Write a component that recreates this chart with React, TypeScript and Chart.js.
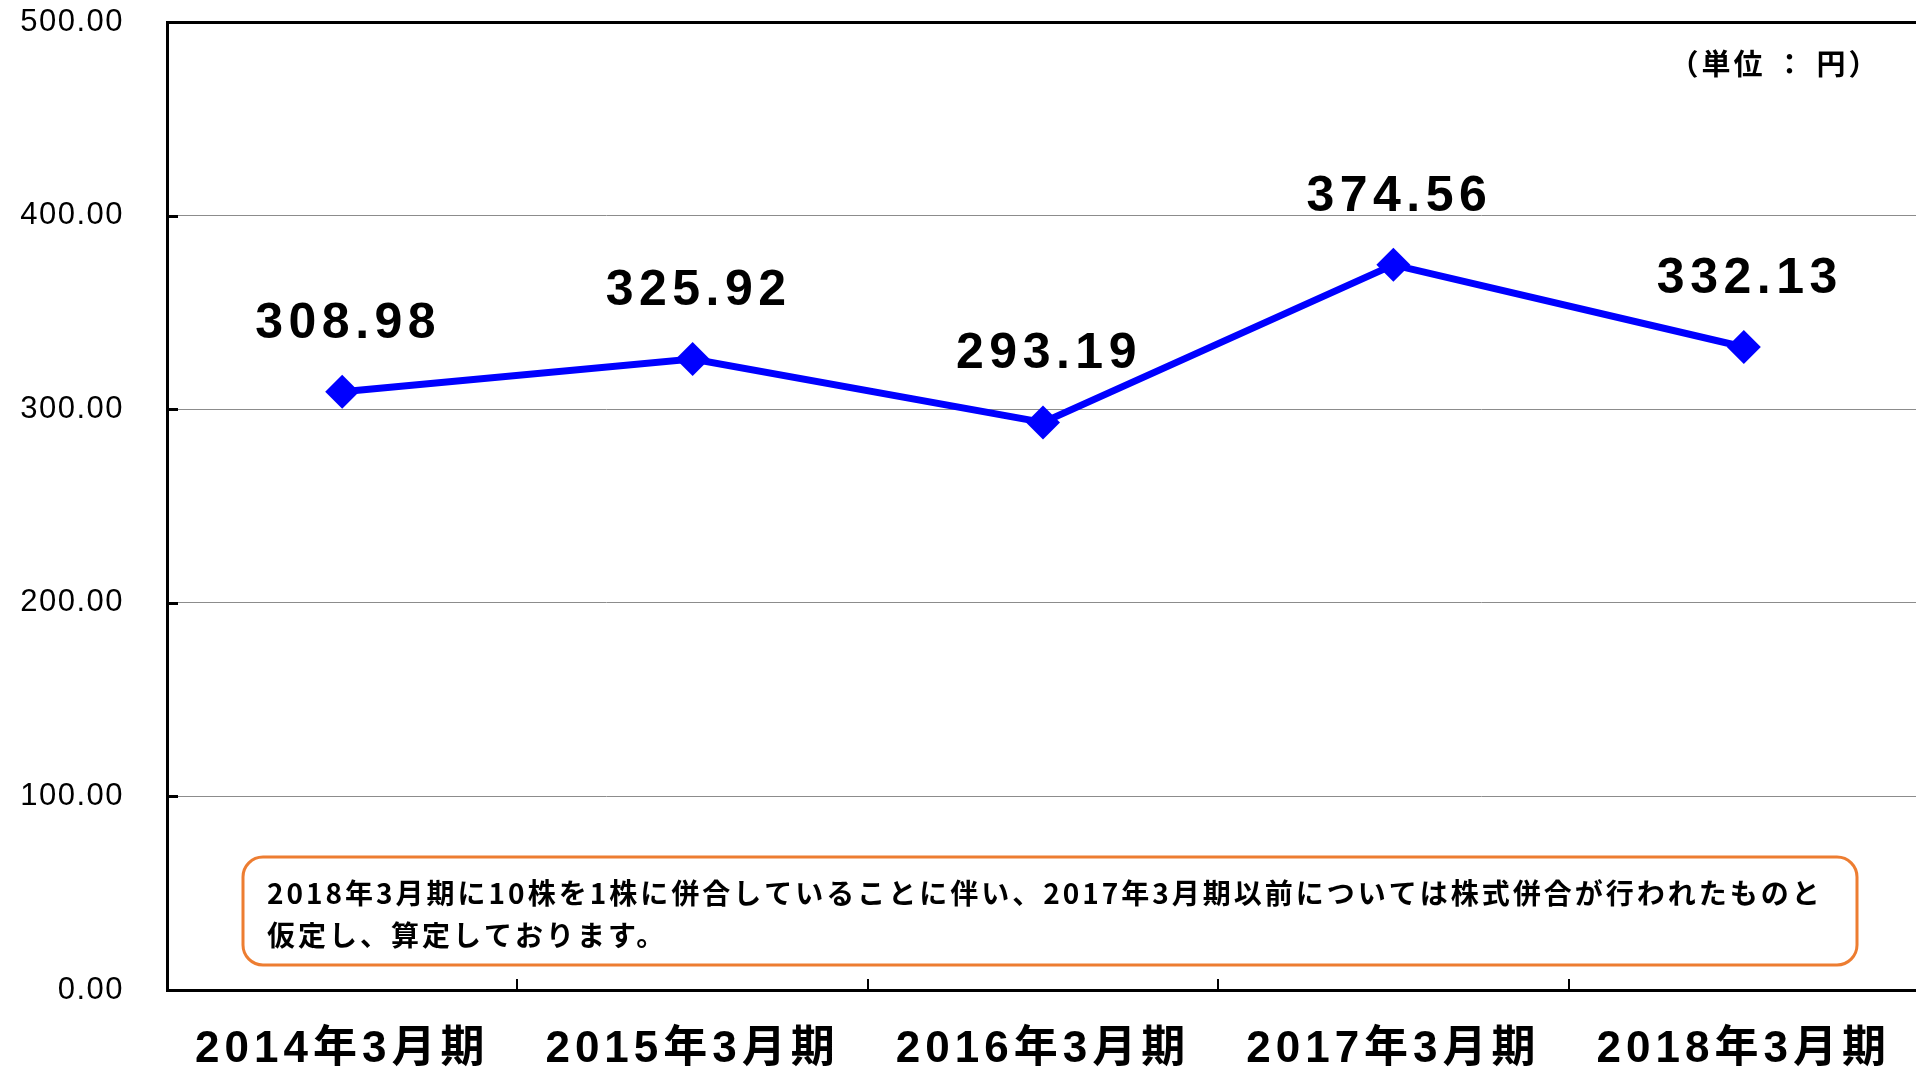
import React, { useEffect, useRef } from "react";
import { Chart, registerables } from "chart.js";

Chart.register(...registerables);

const categories = ["2014年3月期", "2015年3月期", "2016年3月期", "2017年3月期", "2018年3月期"];
const values = [308.98, 325.92, 293.19, 374.56, 332.13];
const yTickValues = [0, 100, 200, 300, 400, 500];
const unitLabel = "（単位 ： 円）";
const noteLines = [
  "2018年3月期に10株を1株に併合していることに伴い、2017年3月期以前については株式併合が行われたものと",
  "仮定し、算定しております。",
];

const overlayPlugin = {
  id: "overlay",
  beforeDraw(chart: any) {
    chart.ctx.letterSpacing = "1.5px";
  },
  afterDatasetsDraw(chart: any) {
    const { ctx, chartArea, scales } = chart;
    const xs = scales.x;
    const ys = scales.y;
    ctx.save();
    ctx.strokeStyle = "#000";
    ctx.lineWidth = 3;
    yTickValues.forEach((v) => {
      if (v === 0 || v === 500) return;
      const py = Math.round(ys.getPixelForValue(v)) + 0.5;
      ctx.beginPath();
      ctx.moveTo(chartArea.left, py);
      ctx.lineTo(chartArea.left + 11, py);
      ctx.stroke();
    });
    ctx.lineWidth = 2;
    for (let i = 0; i < categories.length - 1; i++) {
      const px = Math.round((xs.getPixelForValue(i) + xs.getPixelForValue(i + 1)) / 2);
      ctx.beginPath();
      ctx.moveTo(px, chartArea.bottom);
      ctx.lineTo(px, chartArea.bottom - 11);
      ctx.stroke();
    }
    // data labels
    const meta = chart.getDatasetMeta(0);
    ctx.fillStyle = "#000";
    ctx.font = "bold 50px 'Liberation Sans', Arial, sans-serif";
    ctx.letterSpacing = "5.5px";
    ctx.textAlign = "center";
    ctx.textBaseline = "middle";
    meta.data.forEach((pt: any, i: number) => {
      ctx.fillText(values[i].toFixed(2), pt.x + 6, pt.y - 68);
    });
    ctx.restore();
  },
  afterDraw(chart: any) {
    const { ctx, chartArea, scales } = chart;
    const xs = scales.x;
    ctx.save();
    // x category labels
    ctx.fillStyle = "#000";
    ctx.font = "bold 44px 'Liberation Sans', 'Noto Sans CJK JP', sans-serif";
    ctx.letterSpacing = "5px";
    ctx.textAlign = "center";
    ctx.textBaseline = "middle";
    categories.forEach((c, i) => {
      ctx.fillText(c, xs.getPixelForValue(i), chartArea.bottom + 60);
    });

    // unit label
    ctx.font = "bold 29px 'Noto Sans CJK JP', sans-serif";
    ctx.letterSpacing = "3px";
    ctx.fillText(unitLabel, chartArea.right - 144, chartArea.top + 42);

    // note box
    const bx = chartArea.left + 76;
    const bw = 1614;
    const by = chartArea.bottom - 133;
    const bh = 108;
    ctx.beginPath();
    (ctx as any).roundRect(bx, by, bw, bh, 20);
    ctx.fillStyle = "#fff";
    ctx.fill();
    ctx.lineWidth = 3;
    ctx.strokeStyle = "#ED7D31";
    ctx.stroke();
    ctx.fillStyle = "#000";
    ctx.font = "bold 28px 'Noto Sans CJK JP', sans-serif";
    ctx.letterSpacing = "3px";
    ctx.textAlign = "left";
    ctx.textBaseline = "middle";
    ctx.fillText(noteLines[0], bx + 24, by + 36);
    ctx.fillText(noteLines[1], bx + 24, by + 78);
    ctx.restore();
  },
};

export default function App() {
  const canvasRef = useRef<HTMLCanvasElement | null>(null);

  useEffect(() => {
    const canvas = canvasRef.current;
    if (!canvas) return;
    const chart = new Chart(canvas, {
      type: "line",
      data: {
        labels: categories,
        datasets: [
          {
            data: values,
            borderColor: "#0000FF",
            backgroundColor: "#0000FF",
            borderWidth: 7,
            tension: 0,
            pointStyle: "rectRot",
            pointRadius: 17,
            pointBorderWidth: 0,
            pointBackgroundColor: "#0000FF",
            fill: false,
          },
        ],
      },
      options: {
        animation: false,
        responsive: false,
        devicePixelRatio: 1,
        layout: { padding: { top: 22, left: 0, right: 0, bottom: 0 } },
        plugins: {
          legend: { display: false },
          tooltip: { enabled: false },
          title: { display: false },
        },
        scales: {
          x: {
            type: "category",
            offset: true,
            grid: { display: false, drawTicks: false },
            border: { display: true, color: "#000", width: 3 },
            ticks: { display: false },
            afterFit: (scale: any) => {
              scale.height = 80;
              scale.paddingLeft = 0;
              scale.paddingRight = 0;
              scale.paddingTop = 0;
              scale.paddingBottom = 0;
            },
          },
          y: {
            min: 0,
            max: 500,
            ticks: {
              stepSize: 100,
              color: "#000",
              font: { family: "'Liberation Sans', Arial, sans-serif", size: 31 },
              padding: 43,
              callback: (v: any) => Number(v).toFixed(2),
            },
            grid: {
              drawTicks: false,
              color: (c: any) => (c.tick && c.tick.value === 500 ? "#000" : "#8c8c8c"),
              lineWidth: (c: any) => (c.tick && c.tick.value === 500 ? 3 : 1),
            },
            border: { display: true, color: "#000", width: 3 },
            afterFit: (scale: any) => {
              scale.width = 167;
              scale.paddingTop = 0;
              scale.paddingBottom = 0;
              scale.paddingLeft = 0;
              scale.paddingRight = 0;
            },
          },
        },
      },
      plugins: [overlayPlugin],
    });
    return () => chart.destroy();
  }, []);

  return (
    <div style={{ position: "fixed", left: 0, top: 0, width: 1916, height: 1070, overflow: "hidden", background: "#fff" }}>
      <canvas ref={canvasRef} width={1936} height={1070} style={{ display: "block" }} />
    </div>
  );
}
